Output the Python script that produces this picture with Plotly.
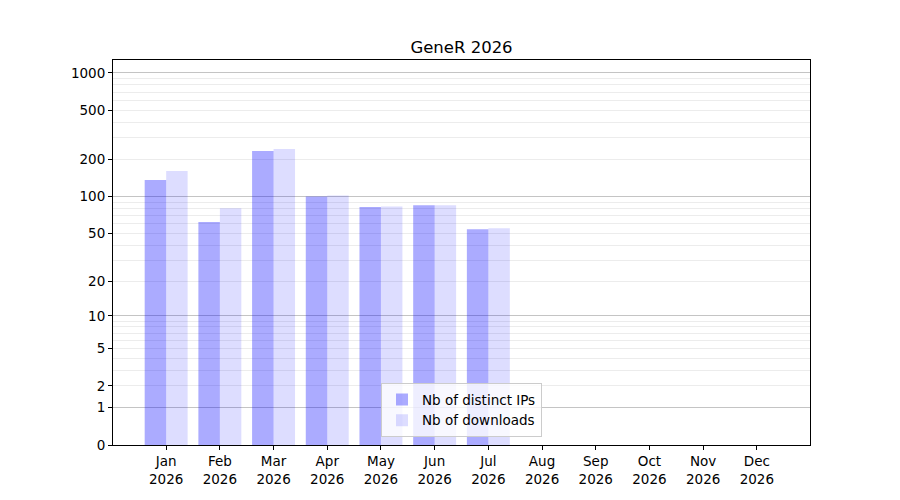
import numpy as np
import plotly.graph_objects as go

months = ["Jan", "Feb", "Mar", "Apr", "May", "Jun", "Jul", "Aug", "Sep", "Oct", "Nov", "Dec"]
year = "2026"
distinct_ips = [136, 62, 234, 100, 82, 85, 54, 0, 0, 0, 0, 0]
downloads = [161, 80, 243, 102, 83, 85, 55, 0, 0, 0, 0, 0]
y_tick_values = [0, 1, 2, 5, 10, 20, 50, 100, 200, 500, 1000]
major_grid_values = [1, 10, 100, 1000]
minor_grid_values = [m * d for d in (1, 10, 100) for m in range(2, 10)]


def f(v):
    return np.log10(1 + np.asarray(v, dtype=float))


x = list(range(len(months)))
xlabels = [f"{m}<br>{year}" for m in months]
yrange = [0, 3.105]

fig = go.Figure()
fig.add_trace(go.Bar(x=x, y=f(distinct_ips), name="Nb of distinct IPs",
                     marker=dict(color="rgba(0,0,255,0.33)", line=dict(width=0)),
                     customdata=distinct_ips, hovertemplate="%{customdata}"))
fig.add_trace(go.Bar(x=x, y=f(downloads), name="Nb of downloads",
                     marker=dict(color="rgba(0,0,255,0.135)", line=dict(width=0)),
                     customdata=downloads, hovertemplate="%{customdata}"))

font = dict(family="DejaVu Sans", size=13.5, color="black")
fig.update_layout(
    width=900, height=500,
    margin=dict(l=105, r=98, t=52, b=63),
    paper_bgcolor="white", plot_bgcolor="white",
    barmode="group", bargap=0.2, bargroupgap=0,
    font=font,
    title=dict(text="GeneR 2026", x=0.5, xref="paper", xanchor="center",
               y=1, yref="paper", yanchor="bottom", pad=dict(b=7),
               font=dict(family="DejaVu Sans", size=16.5, color="black")),
    showlegend=True,
    legend=dict(x=0.5, y=0.02, xanchor="center", yanchor="bottom",
                bgcolor="rgba(255,255,255,0.8)", bordercolor="#cccccc", borderwidth=1,
                font=dict(family="DejaVu Sans", size=13.5), tracegroupgap=0),
    xaxis=dict(tickmode="array", tickvals=x, ticktext=xlabels, range=[-0.99, 11.99],
               showgrid=False, zeroline=False, showline=True, linecolor="black", linewidth=1,
               mirror=True, ticks="outside", ticklen=4, tickcolor="black"),
    yaxis=dict(tickmode="array", tickvals=list(f(y_tick_values)),
               ticktext=[str(v) for v in y_tick_values], range=yrange,
               showgrid=True, gridcolor="#ececec", gridwidth=1, zeroline=False,
               showline=True, linecolor="black", linewidth=1, mirror=True,
               ticks="outside", ticklen=4, tickcolor="black",
               minor=dict(tickmode="array", tickvals=list(f(minor_grid_values)),
                          showgrid=True, gridcolor="#ececec", gridwidth=1, ticks="")),
    yaxis2=dict(overlaying="y", range=yrange, tickmode="array",
                tickvals=list(f(major_grid_values)), showticklabels=False,
                showgrid=True, gridcolor="#c4c4c4", gridwidth=1, zeroline=False,
                showline=False, ticks=""),
)
# invisible trace so yaxis2 (major gridlines) is rendered
fig.add_trace(go.Scatter(x=[0], y=[0], yaxis="y2", mode="markers",
                         marker=dict(opacity=0), showlegend=False, hoverinfo="skip"))

fig.write_html("out.html")
